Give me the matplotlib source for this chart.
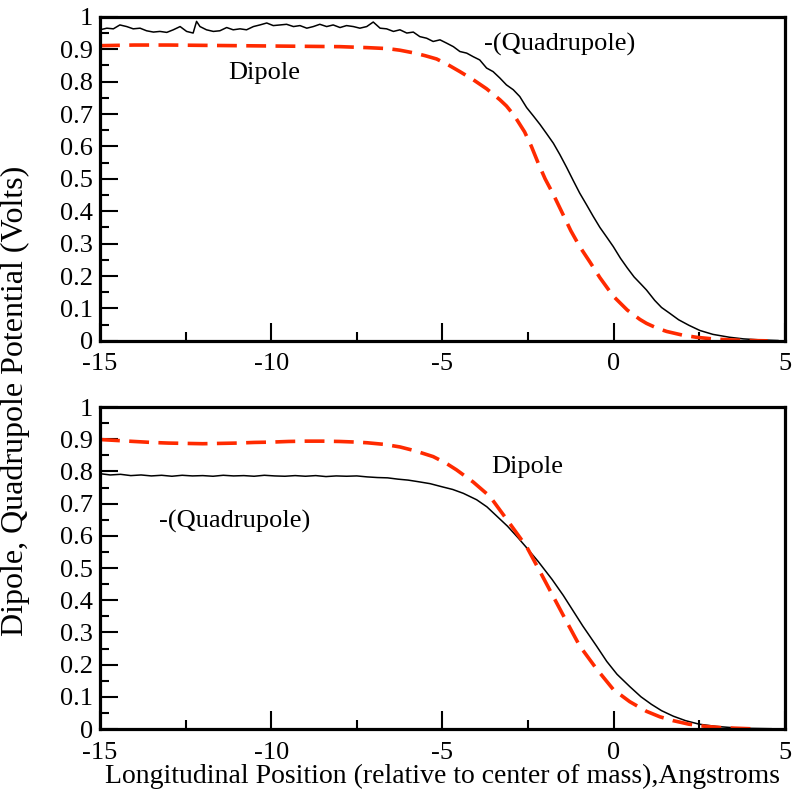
"""
Dipole and -(quadrupole) potential along the longitudinal axis, two panels.
Values read off the reference figure by hand.
"""

import matplotlib
matplotlib.use("Agg")
import matplotlib.pyplot as plt
from matplotlib.ticker import MultipleLocator, FixedLocator, FixedFormatter

# ---------------- top panel ----------------
top_quad_x = [-15.0, -14.8, -14.61, -14.42, -14.22, -14.03, -13.83, -13.64, -13.44, -13.25,
              -13.05, -12.86, -12.66, -12.47, -12.28, -12.18, -12.08, -11.89, -11.69, -11.5,
              -11.3, -11.11, -10.91, -10.72, -10.52, -10.33, -10.13, -9.94, -9.74, -9.55,
              -9.35, -9.16, -8.96, -8.77, -8.58, -8.38, -8.19, -7.99, -7.8, -7.6,
              -7.41, -7.21, -7.02, -6.82, -6.63, -6.43, -6.24, -6.04, -5.85, -5.66,
              -5.46, -5.27, -5.07, -4.88, -4.68, -4.49, -4.29, -4.10, -3.91, -3.71,
              -3.52, -3.32, -3.13, -2.93, -2.74, -2.54, -2.35, -2.15, -1.96, -1.76,
              -1.57, -1.37, -1.18, -0.99, -0.79, -0.6, -0.4, -0.2, -0.01, 0.2,
              0.4, 0.6, 0.8, 0.96, 1.2, 1.4, 1.64, 1.9, 2.2, 2.52,
              2.9, 3.39, 3.8, 4.27, 4.8]
top_quad_y = [0.960, 0.965, 0.963, 0.975, 0.970, 0.963, 0.965, 0.957, 0.953, 0.955,
              0.952, 0.960, 0.970, 0.955, 0.950, 0.986, 0.970, 0.960, 0.955, 0.957,
              0.967, 0.960, 0.963, 0.960, 0.970, 0.975, 0.981, 0.973, 0.975, 0.977,
              0.970, 0.973, 0.965, 0.970, 0.977, 0.970, 0.975, 0.967, 0.973, 0.970,
              0.965, 0.970, 0.984, 0.965, 0.963, 0.955, 0.960, 0.950, 0.953, 0.939,
              0.934, 0.924, 0.929, 0.919, 0.908, 0.893, 0.888, 0.877, 0.867, 0.842,
              0.831, 0.811, 0.790, 0.775, 0.754, 0.720, 0.695, 0.668, 0.640, 0.610,
              0.575, 0.535, 0.495, 0.456, 0.420, 0.385, 0.350, 0.320, 0.291, 0.255,
              0.225, 0.197, 0.175, 0.157, 0.125, 0.103, 0.085, 0.065, 0.048, 0.032,
              0.020, 0.011, 0.006, 0.003, 0.001]

top_dip_x = [-15.0, -14.0, -13.0, -12.0, -11.0, -10.0, -9.0, -8.0, -7.2, -6.6,
             -6.24, -5.8, -5.5, -5.17, -4.85, -4.49, -4.1, -3.71, -3.32, -3.13,
             -2.9, -2.6, -2.4, -2.2, -2.0, -1.76, -1.5, -1.25, -0.99, -0.69,
             -0.4, -0.01, 0.4, 0.77, 0.96, 1.25, 1.55, 2.0, 2.42, 2.9,
             3.39, 4.0, 4.5]
top_dip_y = [0.911, 0.913, 0.913, 0.912, 0.911, 0.910, 0.909, 0.908, 0.905, 0.902,
             0.897, 0.888, 0.880, 0.870, 0.853, 0.831, 0.806, 0.778, 0.744, 0.725,
             0.695, 0.645, 0.600, 0.548, 0.500, 0.452, 0.395, 0.340, 0.291, 0.243,
             0.195, 0.138, 0.095, 0.066, 0.054, 0.040, 0.029, 0.018, 0.011, 0.006,
             0.003, 0.001, 0.0]

# ---------------- bottom panel ----------------
bot_quad_x = [-15.0, -14.7, -14.4, -14.1, -13.8, -13.5, -13.2, -12.9, -12.6, -12.3,
              -12.0, -11.7, -11.4, -11.1, -10.8, -10.5, -10.2, -9.9, -9.6, -9.3,
              -9.0, -8.7, -8.4, -8.1, -7.8, -7.5, -7.2, -6.9, -6.6, -6.3,
              -6.0, -5.7, -5.36, -5.0, -4.7, -4.39, -4.0, -3.7, -3.42, -3.1,
              -2.8, -2.54, -2.2, -1.8, -1.47, -1.2, -0.9, -0.5, -0.2, 0.1,
              0.47, 0.8, 1.1, 1.4, 1.74, 2.1, 2.5, 3.0, 3.5, 4.0, 4.6]
bot_quad_y = [0.793, 0.789, 0.791, 0.787, 0.789, 0.786, 0.788, 0.785, 0.788, 0.786,
              0.787, 0.785, 0.788, 0.786, 0.787, 0.785, 0.788, 0.786, 0.785, 0.787,
              0.785, 0.787, 0.784, 0.786, 0.785, 0.786, 0.783, 0.781, 0.780, 0.776,
              0.773, 0.768, 0.762, 0.752, 0.744, 0.732, 0.712, 0.690, 0.662, 0.630,
              0.595, 0.563, 0.520, 0.465, 0.415, 0.370, 0.320, 0.258, 0.210, 0.170,
              0.132, 0.100, 0.077, 0.057, 0.040, 0.026, 0.015, 0.008, 0.004, 0.002, 0.001]

bot_dip_x = [-15.0, -14.5, -14.0, -13.5, -13.0, -12.5, -12.0, -11.5, -11.0, -10.5,
             -10.0, -9.5, -9.0, -8.5, -8.0, -7.5, -7.2, -6.7, -6.24, -5.8,
             -5.27, -4.9, -4.59, -4.1, -3.61, -3.1, -2.54, -2.15, -1.76, -1.37,
             -0.99, -0.5, -0.01, 0.47, 0.96, 1.35, 1.74, 2.2, 2.7, 3.2, 3.7, 4.2]
bot_dip_y = [0.899, 0.896, 0.893, 0.890, 0.888, 0.887, 0.886, 0.887, 0.888, 0.890,
             0.891, 0.893, 0.894, 0.894, 0.893, 0.891, 0.889, 0.884, 0.876, 0.864,
             0.846, 0.826, 0.805, 0.767, 0.722, 0.648, 0.566, 0.489, 0.411, 0.333,
             0.258, 0.187, 0.123, 0.085, 0.055, 0.038, 0.026, 0.015, 0.008, 0.004,
             0.002, 0.0]

Y_TICKS = [0.0, 0.1, 0.2, 0.3, 0.4, 0.5, 0.6, 0.7, 0.8, 0.9, 1.0]
Y_LABELS = ["0", "0.1", "0.2", "0.3", "0.4", "0.5", "0.6", "0.7", "0.8", "0.9", "1"]
X_TICKS = [-15, -10, -5, 0, 5]
X_LABELS = ["-15", "-10", "-5", "0", "5"]

RED = "#ff2a00"
FS = 19        # tick labels / annotations
FS_LAB = 20    # axis titles

plt.rcParams["font.family"] = ["Liberation Serif", "DejaVu Serif"]
plt.rcParams["axes.unicode_minus"] = False


def style_axes(ax):
    ax.set_xlim(-15, 5)
    ax.set_ylim(0, 1)
    ax.xaxis.set_major_locator(FixedLocator(X_TICKS))
    ax.xaxis.set_major_formatter(FixedFormatter(X_LABELS))
    ax.xaxis.set_minor_locator(MultipleLocator(2.5))
    ax.yaxis.set_major_locator(FixedLocator(Y_TICKS))
    ax.yaxis.set_major_formatter(FixedFormatter(Y_LABELS))
    ax.yaxis.set_minor_locator(MultipleLocator(0.05))
    ax.tick_params(which="both", direction="in", top=False, right=False,
                   width=1.5, labelsize=FS)
    ax.tick_params(which="major", length=13)
    ax.tick_params(which="minor", length=6.5)
    ax.tick_params(axis="x", pad=9)
    ax.tick_params(axis="y", pad=5)
    for s in ax.spines.values():
        s.set_linewidth(2.3)


fig = plt.figure(figsize=(8.0, 8.02), dpi=100)
ax1 = fig.add_axes([0.125, 0.575, 0.856, 0.404])
ax2 = fig.add_axes([0.125, 0.091, 0.856, 0.4015])

ax1.plot(top_quad_x, top_quad_y, color="black", lw=1.1)
ax1.plot(top_dip_x, top_dip_y, color=RED, lw=2.6, dashes=(5.5, 2.6))
ax1.text(-10.2, 0.827, "Dipole", fontsize=FS, ha="center", va="center")
ax1.text(-1.57, 0.914, "-(Quadrupole)", fontsize=FS, ha="center", va="center")
style_axes(ax1)

ax2.plot(bot_quad_x, bot_quad_y, color="black", lw=1.1)
ax2.plot(bot_dip_x, bot_dip_y, color=RED, lw=2.6, dashes=(5.5, 2.6))
ax2.text(-2.53, 0.814, "Dipole", fontsize=FS, ha="center", va="center")
ax2.text(-11.06, 0.646, "-(Quadrupole)", fontsize=FS, ha="center", va="center")
style_axes(ax2)
ax2.set_xlabel("Longitudinal Position (relative to center of mass),Angstroms",
               fontsize=FS_LAB, labelpad=0)

fig.text(0.019, 0.5, "Dipole, Quadrupole Potential (Volts)", fontsize=23,
         rotation=90, ha="center", va="center")

fig.savefig("out.png", dpi=100)
